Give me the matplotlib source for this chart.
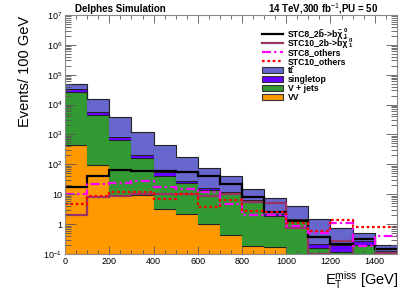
import numpy as np
import matplotlib
matplotlib.use('Agg')
import matplotlib.pyplot as plt
from matplotlib.lines import Line2D
from matplotlib.patches import Rectangle
from matplotlib.ticker import FixedLocator, MultipleLocator, LogLocator, NullFormatter

plt.rcParams['font.family'] = ['Liberation Sans', 'DejaVu Sans']
plt.rcParams['mathtext.fontset'] = 'custom'
plt.rcParams['mathtext.rm'] = 'Liberation Sans'
plt.rcParams['mathtext.it'] = 'Liberation Sans:italic'
plt.rcParams['mathtext.bf'] = 'Liberation Sans:bold'

# bin edges, 100 GeV wide
edges = np.arange(0, 1600, 100)

# stacked backgrounds (per sample, not cumulative)
vv = [430, 96, 9.5, 9.5, 3.2, 2.2, 1.0, 0.43, 0.19, 0.17, 0, 0, 0, 0, 0]
vjets = [26600, 4300, 660, 155, 39, 21, 13, 10.3, 5.3, 1.7, 1.35, 0.16, 0.12, 0.2, 0.11]
singletop = [5000, 1100, 140, 45, 15, 5, 2, 1.6, 0.8, 0.3, 0.15, 0.05, 0.08, 0.07, 0.02]
ttbar = [16000, 9500, 3000, 990, 373, 147, 60, 27, 9.2, 5.2, 2.6, 1.25, 0.53, 0.23, 0.07]

# signal lines
stc8_2b = [18, 41, 65, 58, 58, 57, 42, 22, 7.8, 2.5, 1.3, 0.37, 0.22, 0.32, 0.15]
stc10_2b = [2.0, 8, 9, 10, 10, 10, 9, 10, 5.3, 5.0, 0.77, 0.1, 0.28, 0.05, 0.11]
stc8_others = [10, 22, 23, 28, 18, 15, 12, 4.7, 2.0, 2.0, 0.9, 0.5, 1.1, 0.19, 0.4]
stc10_others = [4.6, 9, 11.5, 11.5, 6.8, 10, 3.7, 6.6, 2.8, 2.6, 1.1, 0.6, 1.4, 0.8, 0.8]

# legend labels; the first two get a stacked "0 over 1" after the chi
legend_labels = [
    'STC8_2b\u0303->b\u03c7\u0303',
    'STC10_2b->b\u03c7\u0303',
    'STC8_others',
    'STC10_others',
    'tt\u0304',
    'singletop',
    'V + jets',
    'VV',
]

W, H = 407, 292
fig = plt.figure(figsize=(W / 100, H / 100), dpi=100)
ax = fig.add_axes([0.16, 0.13, 0.815, 0.819])
ax.set_yscale('log')

# stack: VV, V+jets, singletop, ttbar
stack = [(vv, '#ff9900'), (vjets, '#339933'), (singletop, '#6600ff'), (ttbar, '#6666cc')]
base = np.full(len(vv), 1e-3)
for vals, col in stack:
    top = base + np.array(vals, dtype=float)
    ax.stairs(top, edges, baseline=base, fill=True, color=col, lw=0)
    ax.stairs(top, edges, baseline=None, color='#222222', lw=0.8)
    base = top

dashdot = (0, (4, 1.5, 1, 1.5))
dotted = (0, (1.2, 1.2))
lines = [
    (stc8_2b, 'black', '-'),
    (stc10_2b, '#993366', '-'),
    (stc8_others, '#ff00ff', dashdot),
    (stc10_others, '#ff0000', dotted),
]
for vals, col, ls in [lines[1], lines[0], lines[2], lines[3]]:
    ax.stairs(vals, edges, baseline=None, color=col, lw=1.6, linestyle=ls)

ax.set_xlim(0, 1500)
ax.set_ylim(0.1, 1e7)

ax.xaxis.set_major_locator(MultipleLocator(200))
ax.xaxis.set_minor_locator(MultipleLocator(50))
yt = [0.1, 1, 10, 1e2, 1e3, 1e4, 1e5, 1e6, 1e7]
ax.yaxis.set_major_locator(FixedLocator(yt))
ax.set_yticklabels(['$10^{-1}$', '1', '10', '$10^{2}$', '$10^{3}$', '$10^{4}$',
                    '$10^{5}$', '$10^{6}$', '$10^{7}$'])
ax.yaxis.set_minor_locator(LogLocator(base=10, subs=np.arange(2, 10), numticks=20))
ax.yaxis.set_minor_formatter(NullFormatter())
ax.tick_params(which='both', direction='in', top=True, right=True, labelsize=6.5,
               color='#555555', width=0.6)
ax.tick_params(axis='x', which='major', length=6, pad=2)
ax.tick_params(axis='x', which='minor', length=3)
ax.tick_params(axis='y', which='major', length=8, pad=2)
ax.tick_params(axis='y', which='minor', length=4)
for s in ax.spines.values():
    s.set_color('#888888')
    s.set_linewidth(0.8)

ax.set_ylabel('Events/ 100 GeV', fontsize=10.5)
ax.yaxis.set_label_coords(-0.1, 0.765)
fig.text(0.98, 0.005, r'$\mathrm{E_{T}^{miss}}$ [GeV]', fontsize=10.5, ha='right', va='bottom')

fig.text(0.185, 1 - 12.5 / H, 'Delphes Simulation', fontsize=7, fontweight='bold',
         ha='left', va='baseline')
fig.text(0.93, 1 - 12.5 / H, r'14 TeV,300 fb$^{-1}$,PU = 50', fontsize=7,
         fontweight='bold', ha='right', va='baseline')

# legend drawn by hand, rows 9 px apart
renderer = fig.canvas.get_renderer()
x0, x1, xt = 262 / W, 283 / W, 288 / W
for i, lab in enumerate(legend_labels):
    yc = 1 - (34 + 9 * i) / H
    if i < 4:
        vals, col, ls = lines[i]
        fig.add_artist(Line2D([x0, x1], [yc, yc], color=col, lw=1.6, linestyle=ls,
                              transform=fig.transFigure))
    else:
        col = stack[7 - i][1]
        fig.add_artist(Rectangle((x0, yc - 3.2 / H), x1 - x0, 6.4 / H, facecolor=col,
                                 edgecolor='#333333', lw=0.8, transform=fig.transFigure))
    t = fig.text(xt, yc - 2.8 / H, lab, fontsize=6.2, fontweight='bold',
                 ha='left', va='baseline')
    if i < 2:
        xe = t.get_window_extent(renderer).x1 / W + 0.5 / W
        fig.text(xe, yc + 0.5 / H, '0', fontsize=4.3, fontweight='bold', ha='left', va='bottom')
        fig.text(xe, yc - 4.6 / H, '1', fontsize=4.3, fontweight='bold', ha='left', va='bottom')

fig.savefig('out.png', dpi=100)
